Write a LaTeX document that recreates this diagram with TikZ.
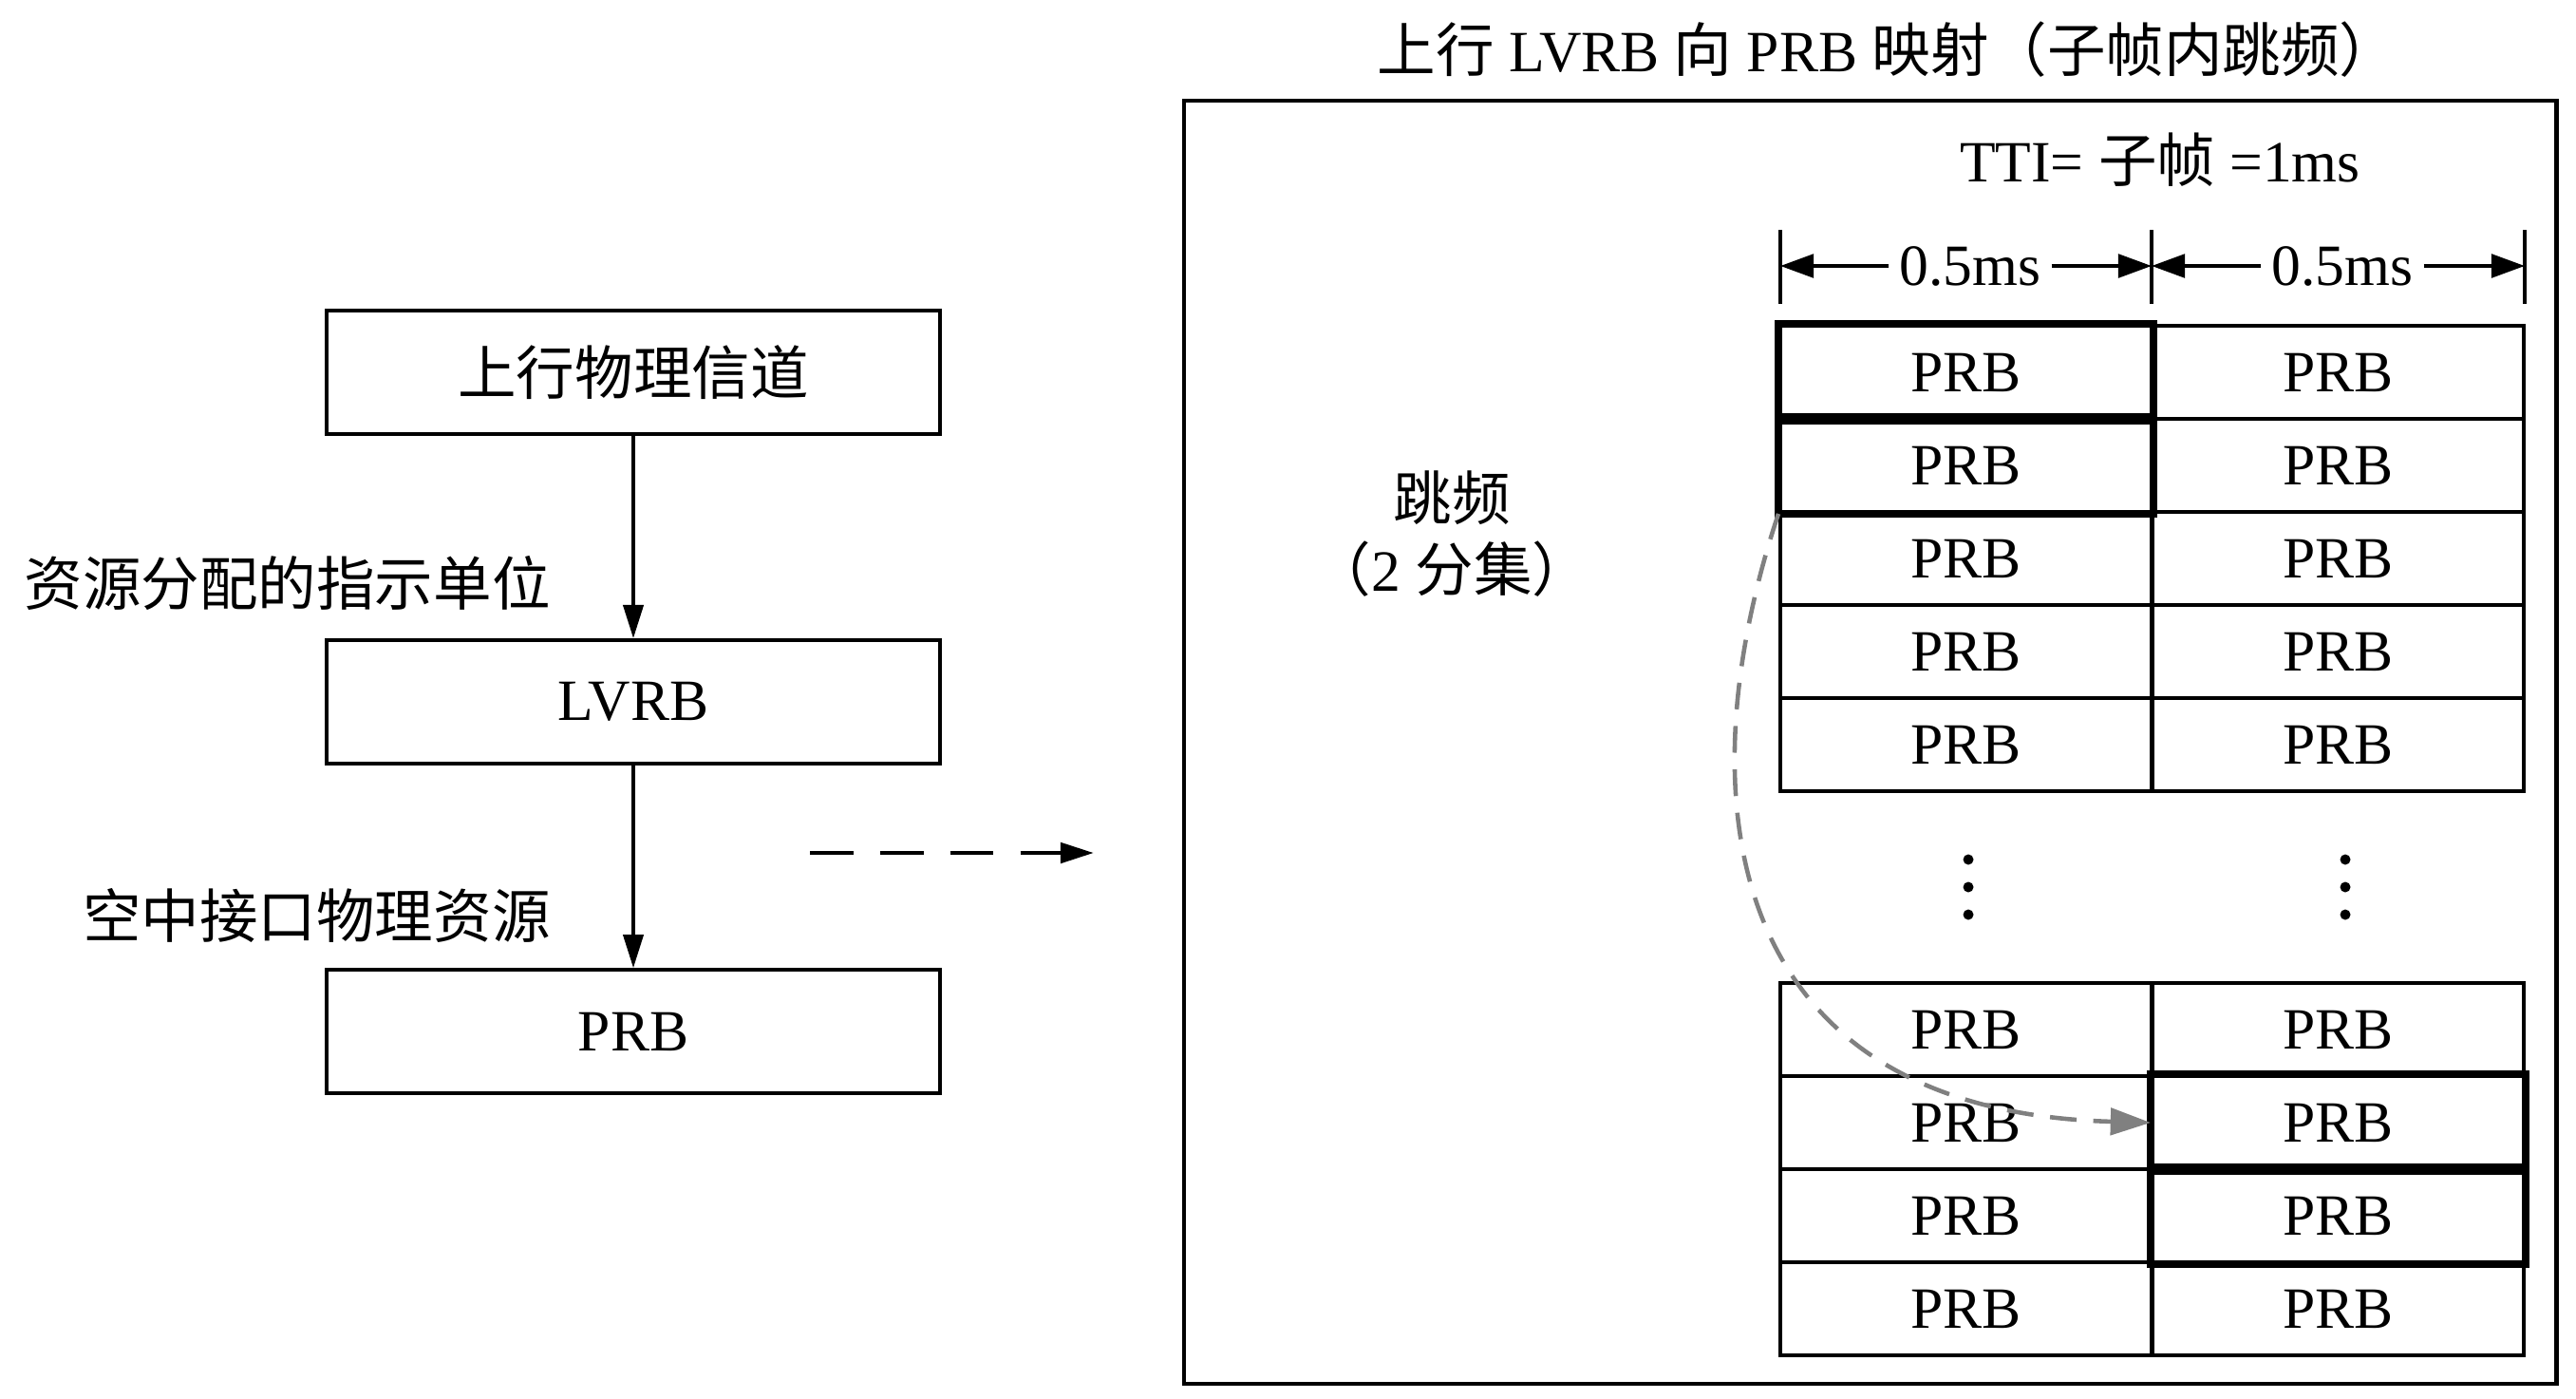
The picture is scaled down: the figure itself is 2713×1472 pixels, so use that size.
\documentclass[tikz,border=0pt]{standalone}
\usepackage{fontspec}
\setmainfont{Liberation Serif}
\newfontfamily\cjk{Noto Sans CJK SC}
\newcommand{\zh}[1]{{\cjk #1}}
\usetikzlibrary{arrows.meta, positioning}
\tikzset{
  box/.style={draw, line width=1.1pt, minimum width=6.46cm, minimum height=1.3cm},
  cell/.style={draw, line width=1.1pt, minimum width=3.91cm, minimum height=0.98cm, inner sep=0pt},
  hopline/.style={line width=2.1pt},
  flow/.style={-{Triangle[length=10pt,width=6pt]}, line width=1.1pt},
  dim/.style={-{Triangle[length=10pt,width=7pt]}, line width=1.1pt},
  hop/.style={-{Triangle[length=12pt,width=8pt]}, gray, line width=1.3pt, dash pattern=on 8pt off 5pt},
}

\begin{document}
\begin{tikzpicture}[x=0.01cm, y=-0.01cm, node distance=2.13cm, font=\fontsize{17.5}{21.5}\selectfont]
  \useasboundingbox (0,0) rectangle (2713,1472);
  % left: channel -> LVRB -> PRB
  \node[box] (ulch) at (667,392) {\zh{上行物理信道}};
  \node[box, below=of ulch] (lvrb) {LVRB};
  \node[box, below=of lvrb] (prb) {PRB};
  \draw[flow] (ulch) -- (lvrb);
  \draw[flow] (lvrb) -- (prb);
  \node[anchor=east] (unit) at (592,614) {\zh{资源分配的指示单位}};
  \node[anchor=east] (air) at (592,964) {\zh{空中接口物理资源}};

  \coordinate (mapfrom) at (853,898);
  \coordinate (mapto) at (1152,898);
  \draw[flow, line width=1.4pt, dash pattern=on 13pt off 8pt] (mapfrom) -- (mapto);

  % right: mapping frame
  \draw[line width=1.4pt] (1247,106) rectangle (2692,1457);
  \node (title) at (1988,52) {\zh{上行} LVRB \zh{向} PRB \zh{映射（子帧内跳频）}};
  \node (tti) at (2275,168) {TTI= \zh{子帧} =1ms};
  \node[align=center] (hop) at (1529,562) {\zh{跳频}\\\zh{（}2 \zh{分集）}};

  % time axis
  \foreach \x/\n in {1875/t0, 2266/t1, 2659/t2} {
    \coordinate (\n) at (\x,280);
    \draw[line width=1.1pt] (\x,242) -- (\x,320);
  }
  \node[inner sep=3pt] (half1) at (2075,280) {0.5ms};
  \node[inner sep=3pt] (half2) at (2467,280) {0.5ms};
  \draw[dim] (half1) -- (t0);
  \draw[dim] (half1) -- (t1);
  \draw[dim] (half2) -- (t1);
  \draw[dim] (half2) -- (t2);

  % PRB grid
  \foreach \r in {1,...,5} {
    \node[cell] (a\r) at (2070.5,294+98*\r) {PRB};
    \node[cell] (b\r) at (2462.5,294+98*\r) {PRB};
  }
  \foreach \r in {1,...,4} {
    \node[cell] (c\r) at (2070.5,986+98*\r) {PRB};
    \node[cell] (d\r) at (2462.5,986+98*\r) {PRB};
  }
  \foreach \c in {a1,a2,d2,d3}
    \draw[hopline] (\c.north west) rectangle (\c.south east);
  \foreach \x in {2073,2470}
    \foreach \y in {905,934,963}
      \fill (\x,\y) circle (0.055cm);

  % hopping
  \draw[hop] (a2.south west) .. controls (1770,850) and (1820,1170) .. (d2.west);
\end{tikzpicture}
\end{document}
